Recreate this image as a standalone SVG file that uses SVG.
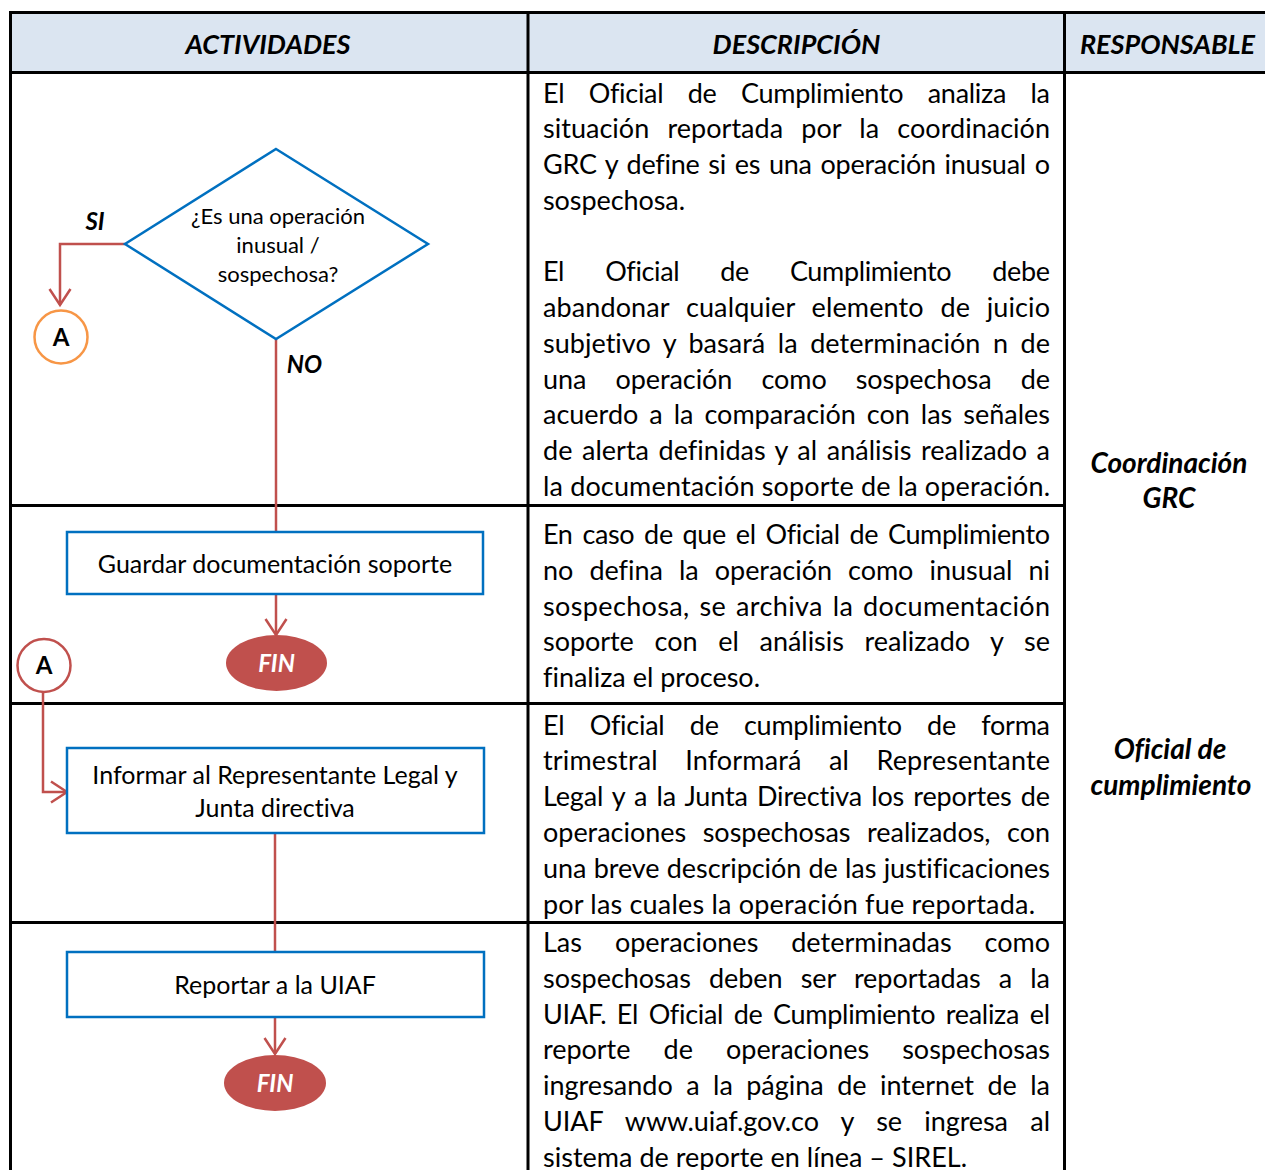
<svg xmlns="http://www.w3.org/2000/svg" width="1265" height="1170" viewBox="0 0 1265 1170">
<style>
text{font-variant-ligatures:none}
.grid{stroke:#000;stroke-width:3;fill:none}
.hdr{font-family:Lato,"Liberation Sans",sans-serif;font-size:27px;font-weight:bold;font-style:italic;fill:#000;text-anchor:middle}
.resp{font-family:Lato,"Liberation Sans",sans-serif;font-size:28px;font-weight:bold;font-style:italic;fill:#000;text-anchor:middle}
.desc{font-family:Lato,"Liberation Sans",sans-serif;font-size:27px;fill:#000}
.box{fill:#fff;stroke:#0070c0;stroke-width:2.5}
.lbl{font-family:Lato,"Liberation Sans",sans-serif;font-size:25px;fill:#000;text-anchor:middle}
.dlbl{font-family:Lato,"Liberation Sans",sans-serif;font-size:22px;fill:#000;text-anchor:middle}
.bi{font-family:Lato,"Liberation Sans",sans-serif;font-size:24px;font-weight:bold;font-style:italic;fill:#000;text-anchor:middle}
.fin{fill:#c0504d;stroke:none}
.fint{font-family:Lato,"Liberation Sans",sans-serif;font-size:24px;font-weight:bold;font-style:italic;fill:#fff;text-anchor:middle}
.conn{fill:none;stroke:#c0504d;stroke-width:2.5}
</style>
<defs>
<marker id="arr" markerUnits="userSpaceOnUse" markerWidth="24" markerHeight="26" viewBox="-18 -13 20 26" refX="0" refY="0" orient="auto">
<path d="M-16,-10.5 L0,0 L-16,10.5" fill="none" stroke="#c0504d" stroke-width="2.5"/>
</marker>
</defs>
<rect x="0" y="0" width="1265" height="1170" fill="#fff"/>
<g id="table">
<rect x="11" y="13" width="1254" height="59" fill="#dbe5f1"/>
<line class="grid" x1="9" y1="12.5" x2="1265" y2="12.5"/>
<line class="grid" x1="9" y1="72.5" x2="1265" y2="72.5"/>
<line class="grid" x1="10.5" y1="11" x2="10.5" y2="1170"/>
<line class="grid" x1="528" y1="11" x2="528" y2="1170"/>
<line class="grid" x1="1064.5" y1="11" x2="1064.5" y2="1170"/>
<line class="grid" x1="9" y1="505.5" x2="1066" y2="505.5"/>
<line class="grid" x1="9" y1="703.5" x2="1066" y2="703.5"/>
<line class="grid" x1="9" y1="922.5" x2="1066" y2="922.5"/>
<text class="hdr" x="268" y="54">ACTIVIDADES</text>
<text class="hdr" x="796.5" y="54">DESCRIPCIÓN</text>
<text class="hdr" x="1167.5" y="54">RESPONSABLE</text>
</g>
<g id="responsables">
<text class="resp" x="1169" y="473">Coordinación</text>
<text class="resp" x="1169" y="508">GRC</text>
<text class="resp" x="1170" y="759">Oficial de</text>
<text class="resp" x="1171" y="795">cumplimiento</text>
</g>
<g id="descripcion">
<text class="desc" x="543" y="102.5" textLength="507" lengthAdjust="spacing" style="word-spacing:17.8px">El Oficial de Cumplimiento analiza la</text>
<text class="desc" x="543" y="138.3" textLength="507" lengthAdjust="spacing" style="word-spacing:11.3px">situación reportada por la coordinación</text>
<text class="desc" x="543" y="174" textLength="507" lengthAdjust="spacing" style="word-spacing:2px">GRC y define si es una operación inusual o</text>
<text class="desc" x="543" y="209.8" textLength="142" lengthAdjust="spacing">sospechosa.</text>
<text class="desc" x="543" y="281.3" textLength="507" lengthAdjust="spacing" style="word-spacing:34.5px">El Oficial de Cumplimiento debe</text>
<text class="desc" x="543" y="317" textLength="507" lengthAdjust="spacing" style="word-spacing:9.7px">abandonar cualquier elemento de juicio</text>
<text class="desc" x="543" y="352.8" textLength="507" lengthAdjust="spacing" style="word-spacing:5.6px">subjetivo y basará la determinación n de</text>
<text class="desc" x="543" y="388.5" textLength="507" lengthAdjust="spacing" style="word-spacing:22.2px">una operación como sospechosa de</text>
<text class="desc" x="543" y="424.3" textLength="507" lengthAdjust="spacing" style="word-spacing:4.1px">acuerdo a la comparación con las señales</text>
<text class="desc" x="543" y="460" textLength="507" lengthAdjust="spacing" style="word-spacing:2.6px">de alerta definidas y al análisis realizado a</text>
<text class="desc" x="543" y="495.8" textLength="507" lengthAdjust="spacing">la documentación soporte de la operación.</text>
<text class="desc" x="543" y="543.5" textLength="507" lengthAdjust="spacing" style="word-spacing:3.2px">En caso de que el Oficial de Cumplimiento</text>
<text class="desc" x="543" y="579.5" textLength="507" lengthAdjust="spacing" style="word-spacing:9.2px">no defina la operación como inusual ni</text>
<text class="desc" x="543" y="615.5" textLength="507" lengthAdjust="spacing" style="word-spacing:2.6px">sospechosa, se archiva la documentación</text>
<text class="desc" x="543" y="651" textLength="507" lengthAdjust="spacing" style="word-spacing:13.9px">soporte con el análisis realizado y se</text>
<text class="desc" x="543" y="686.5" textLength="217" lengthAdjust="spacing">finaliza el proceso.</text>
<text class="desc" x="543" y="734.5" textLength="507" lengthAdjust="spacing" style="word-spacing:18.7px">El Oficial de cumplimiento de forma</text>
<text class="desc" x="543" y="770" textLength="507" lengthAdjust="spacing" style="word-spacing:20.3px">trimestral Informará al Representante</text>
<text class="desc" x="543" y="805.5" textLength="507" lengthAdjust="spacing" style="word-spacing:2.4px">Legal y a la Junta Directiva los reportes de</text>
<text class="desc" x="543" y="841.5" textLength="507" lengthAdjust="spacing" style="word-spacing:9.7px">operaciones sospechosas realizados, con</text>
<text class="desc" x="543" y="877.5" textLength="507" lengthAdjust="spacing" style="word-spacing:0.5px">una breve descripción de las justificaciones</text>
<text class="desc" x="543" y="913.5" textLength="492" lengthAdjust="spacing">por las cuales la operación fue reportada.</text>
<text class="desc" x="543" y="951.5" textLength="507" lengthAdjust="spacing" style="word-spacing:26px">Las operaciones determinadas como</text>
<text class="desc" x="543" y="987.5" textLength="507" lengthAdjust="spacing" style="word-spacing:11.2px">sospechosas deben ser reportadas a la</text>
<text class="desc" x="543" y="1023.5" textLength="507" lengthAdjust="spacing" style="word-spacing:4px">UIAF. El Oficial de Cumplimiento realiza el</text>
<text class="desc" x="543" y="1059" textLength="507" lengthAdjust="spacing" style="word-spacing:26.3px">reporte de operaciones sospechosas</text>
<text class="desc" x="543" y="1094.5" textLength="507" lengthAdjust="spacing" style="word-spacing:6.5px">ingresando a la página de internet de la</text>
<text class="desc" x="543" y="1130.5" textLength="507" lengthAdjust="spacing" style="word-spacing:15.6px">UIAF www.uiaf.gov.co y se ingresa al</text>
<text class="desc" x="543" y="1166.5" textLength="424" lengthAdjust="spacing">sistema de reporte en línea – SIREL.</text>
</g>
<g id="connectors">
<path class="conn" d="M125,244 H60 V305" marker-end="url(#arr)"/>
<path class="conn" d="M276,339 V532"/>
<path class="conn" d="M276,594 V635" marker-end="url(#arr)"/>
<path class="conn" d="M43,692 V792 H67" marker-end="url(#arr)"/>
<path class="conn" d="M275,833 V952"/>
<path class="conn" d="M275,1017 V1054" marker-end="url(#arr)"/>
<text class="bi" x="95" y="230">SI</text>
<text class="bi" x="304.5" y="373">NO</text>
</g>
<g id="decision">
<polygon points="276,149 428,244 276,339 125,244" fill="#fff" stroke="#0070c0" stroke-width="2.5"/>
<text class="dlbl" x="278" y="223.5">¿Es una operación</text>
<text class="dlbl" x="278" y="252.5">inusual /</text>
<text class="dlbl" x="278" y="281.5">sospechosa?</text>
</g>
<g id="connector-a-out">
<circle cx="61" cy="337" r="26.5" fill="#fff" stroke="#f79646" stroke-width="2.5"/>
<text class="bi" x="61" y="346" style="font-style:normal">A</text>
</g>
<g id="guardar">
<rect class="box" x="67" y="532" width="416" height="62"/>
<text class="lbl" x="275" y="572.5">Guardar documentación soporte</text>
</g>
<g id="fin1">
<ellipse class="fin" cx="276.5" cy="663" rx="50.5" ry="28"/>
<text class="fint" x="276.5" y="672">FIN</text>
</g>
<g id="connector-a-in">
<circle cx="44" cy="665.5" r="26.5" fill="#fff" stroke="#c0504d" stroke-width="2.5"/>
<text class="bi" x="44" y="674" style="font-style:normal">A</text>
</g>
<g id="informar">
<rect class="box" x="67" y="748" width="417" height="85"/>
<text class="lbl" x="275" y="783.5">Informar al Representante Legal y</text>
<text class="lbl" x="275" y="816.5">Junta directiva</text>
</g>
<g id="reportar">
<rect class="box" x="67" y="952" width="417" height="65"/>
<text class="lbl" x="275" y="993.5">Reportar a la UIAF</text>
</g>
<g id="fin2">
<ellipse class="fin" cx="275" cy="1083" rx="51" ry="28"/>
<text class="fint" x="275" y="1092">FIN</text>
</g>
</svg>
